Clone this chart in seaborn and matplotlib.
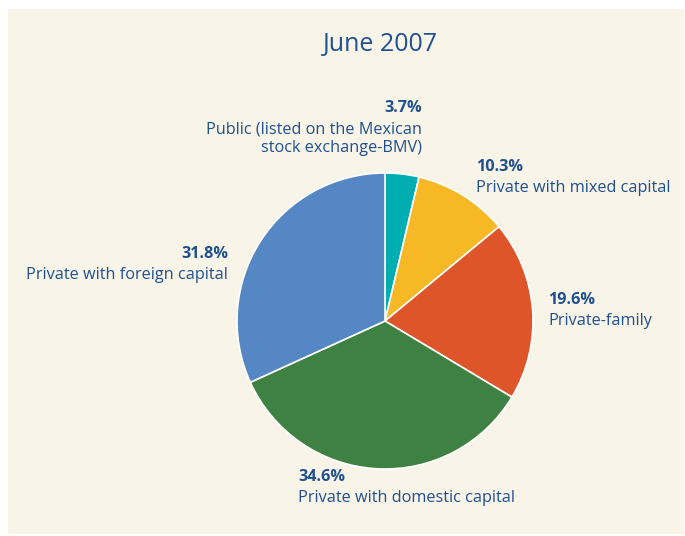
import matplotlib
matplotlib.use("Agg")
import matplotlib.pyplot as plt
from matplotlib.patches import Rectangle
import seaborn as sns

# Ownership structure of companies, June 2007 (share of total, %)
categories = [
    "Public (listed on the Mexican\nstock exchange-BMV)",
    "Private with mixed capital",
    "Private-family",
    "Private with domestic capital",
    "Private with foreign capital",
]
shares = [3.7, 10.3, 19.6, 34.6, 31.8]
slice_colors = ["#00adb0", "#f7b825", "#de5529", "#3e8142", "#5587c5"]
title = "June 2007"

sns.set_theme(style="white")
plt.rcParams["font.family"] = ["Open Sans", "DejaVu Sans"]

W, H = 685, 536
fig = plt.figure(figsize=(W / 100, H / 100), dpi=100)
fig.patch.set_facecolor("white")

# cream panel behind the chart
fig.patches.append(Rectangle((8 / W, 1 - 534 / H), 676 / W, 525 / H,
                             transform=fig.transFigure, facecolor="#f8f4e8",
                             edgecolor="none", zorder=-5))

text_color = "#1f5090"

# pie axes: centre (385, 321) px, radius 148 px
cx, cy, r = 385, 321, 148
ax = fig.add_axes([(cx - r) / W, 1 - (cy + r) / H, 2 * r / W, 2 * r / H])
ax.set_facecolor("none")
ax.set_zorder(2)
palette = sns.color_palette(slice_colors)
ax.pie(shares, colors=palette, startangle=90, counterclock=False,
       wedgeprops=dict(edgecolor="white", linewidth=1.2))
ax.set_xlim(-1, 1)
ax.set_ylim(-1, 1)
ax.set_aspect("equal")
ax.axis("off")

def px(x, y):
    return x / W, 1 - y / H

fig.text(*px(380, 45), title, ha="center", va="center",
         fontsize=18, color=text_color)

# label anchors: (x, y of percent line, alignment)
anchors = [
    (422, 108, "right"),
    (476, 167, "left"),
    (548, 300, "left"),
    (298, 477, "left"),
    (228, 254, "right"),
]
fs = 11.7
for name, val, (x, y, ha) in zip(categories, shares, anchors):
    fig.text(*px(x, y), f"{val:.1f}%", ha=ha, va="center", fontsize=fs,
             fontweight="bold", color=text_color)
    fig.text(*px(x, y + 13), name, ha=ha, va="top", fontsize=fs,
             color=text_color, linespacing=1.27, multialignment=ha)

fig.savefig("out.png", dpi=100, facecolor=fig.get_facecolor())
